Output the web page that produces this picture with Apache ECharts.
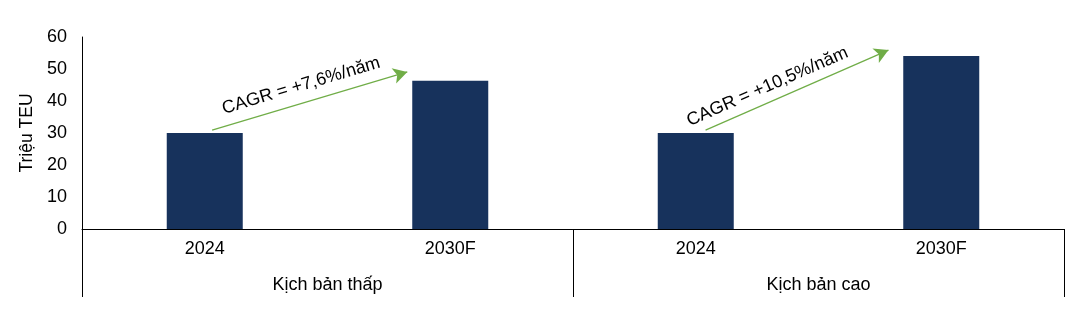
<!DOCTYPE html>
<html><head><meta charset="utf-8">
<script src="https://cdn.jsdelivr.net/npm/echarts@6/dist/echarts.min.js"></script>
<style>html,body{margin:0;padding:0;background:#fff}#c{width:1091px;height:322px}</style>
</head><body><div id="c"></div>
<script>
const categories = ['2024', '2030F', '2024', '2030F'];
const groups = ['Kịch bản thấp', 'Kịch bản cao'];
const values = [30, 46.3, 30, 54.1];
const yTicks = { min: 0, max: 60, interval: 10 };
const yName = 'Triệu TEU';
const cagrLabels = ['CAGR = +7,6%/năm', 'CAGR = +10,5%/năm'];
// arrow anchors in data space: [category position, value]
const arrowStarts = [[0.03, 30.9], [2.04, 30.9]];
const arrowEnds = [[0.825, 49.1], [2.785, 55.9]];

const font = 'Liberation Sans, Arial, sans-serif';
const chart = echarts.init(document.getElementById('c'));
chart.setOption({
  animation: false,
  grid: { left: 82, right: 27, top: 37, bottom: 93 },
  xAxis: [
    { type: 'category', data: categories, position: 'bottom',
      axisLine: { show: true, lineStyle: { color: '#000', width: 1 } },
      axisTick: { show: false },
      axisLabel: { color: '#000', fontFamily: font, fontSize: 18, margin: 11 } },
    { type: 'category', data: groups, position: 'bottom',
      axisLine: { show: false },
      axisTick: { show: true, length: 68, lineStyle: { color: '#000', width: 1 } },
      axisLabel: { color: '#000', fontFamily: font, fontSize: 18, margin: 47 } },
    { type: 'value', min: -0.5, max: 3.5, show: false }
  ],
  yAxis: {
    type: 'value', min: yTicks.min, max: yTicks.max, interval: yTicks.interval,
    name: yName, nameLocation: 'middle', nameGap: 46,
    nameTextStyle: { color: '#000', fontFamily: font, fontSize: 17.5 },
    axisLine: { show: true, onZero: false, lineStyle: { color: '#000', width: 1 } },
    axisTick: { show: false },
    splitLine: { show: false },
    axisLabel: { color: '#000', fontFamily: font, fontSize: 18, margin: 15 }
  },
  series: [
    { type: 'bar', data: values, xAxisIndex: 0, barWidth: 76,
      itemStyle: { color: '#17325c' } },
    { type: 'line', data: [], xAxisIndex: 2, yAxisIndex: 0, silent: true,
      markLine: {
        silent: true, symbol: ['none', 'arrow'], symbolSize: [12, 14],
        lineStyle: { color: '#70ad47', width: 1.2, type: 'solid' },
        label: { show: true, position: 'insideMiddleTop', distance: 6,
          color: '#000', fontFamily: font, fontSize: 18 },
        data: [
          [ { coord: arrowStarts[0], label: { formatter: cagrLabels[0], position: 'insideStartTop', distance: [16, 8] } }, { coord: arrowEnds[0] } ],
          [ { coord: arrowStarts[1], label: { formatter: cagrLabels[1], position: 'insideStartTop', distance: [-13, 6] } }, { coord: arrowEnds[1] } ]
        ]
      } }
  ]
});
</script></body></html>
